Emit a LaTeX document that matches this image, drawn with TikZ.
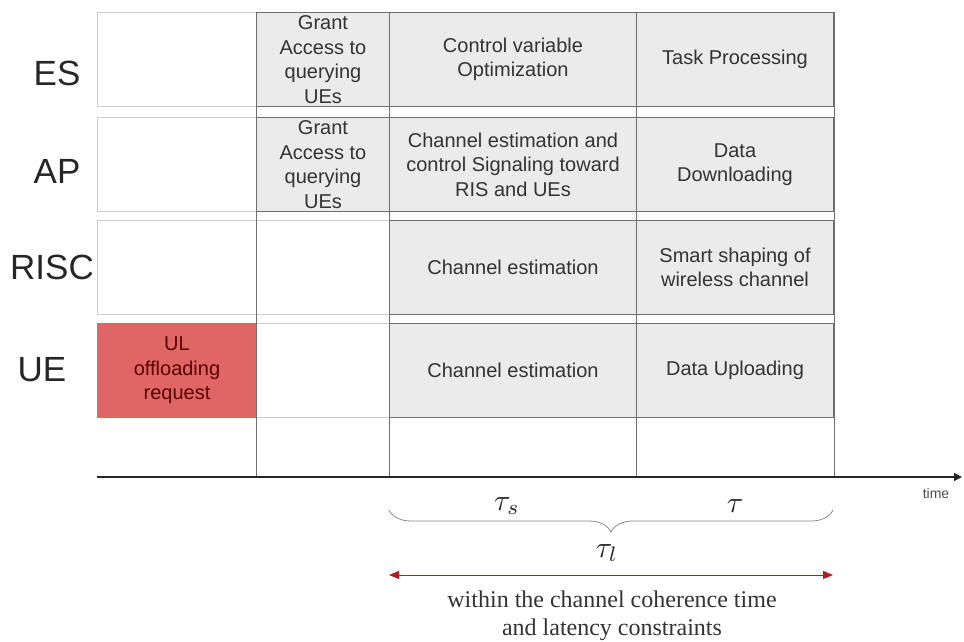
\documentclass[tikz,border=0pt]{standalone}
\usepackage{fontspec}
\setmainfont{Liberation Serif}
\newfontfamily\cellfont{Liberation Sans}
\usetikzlibrary{arrows.meta,decorations.pathreplacing}
\definecolor{cellgray}{HTML}{EBEBEB}
\definecolor{linegray}{HTML}{6E6E6E}
\definecolor{lightline}{HTML}{CDCDCD}
\definecolor{reqred}{HTML}{E06666}
\definecolor{arrowred}{HTML}{B01E23}
\newcommand{\durlabel}[1]{\scalebox{3}{$#1$}}
\tikzset{
	cell/.style={rectangle,anchor=north west,inner sep=0pt,minimum height=94pt,align=center,line width=1pt,
		font=\cellfont\fontsize{20}{24.5}\selectfont,text=black!80},
	blank/.style={cell,draw=lightline,fill=white},
	task/.style={cell,draw=linegray,fill=cellgray},
	request/.style={cell,draw=reqred,fill=reqred,text=black!65!red},
	c0/.style={minimum width=159pt},
	c1/.style={minimum width=133pt},
	c2/.style={minimum width=247pt},
	c3/.style={minimum width=197pt},
	entity/.style={font=\cellfont\fontsize{35}{35}\selectfont,text=black!85,inner sep=0pt},
	grid/.style={draw=linegray,line width=1pt},
	dur/.style={font=\fontsize{10}{10}\selectfont,text=black!85,inner sep=0pt},
}
\begin{document}
\begin{tikzpicture}[x=1pt,y=-1pt]
	\useasboundingbox (0,0) rectangle (964,642);
	\path
	(97,477) coordinate (t0)
	(962,477) coordinate (t1)
	(389,510) coordinate (bl)
	(833,510) coordinate (br)
	(389,575) coordinate (al)
	(833,575) coordinate (ar)
	;
	\node[blank,c0] (es0) at (97,12) {};
	\node[task,c1] (es1) at (256,12) {Grant\\Access to\\querying\\UEs};
	\node[task,c2] (es2) at (389,12) {Control variable\\Optimization};
	\node[task,c3] (es3) at (636,12) {Task Processing};
	\node[blank,c0] (ap0) at (97,117) {};
	\node[task,c1] (ap1) at (256,117) {Grant\\Access to\\querying\\UEs};
	\node[task,c2] (ap2) at (389,117) {Channel estimation and\\control Signaling toward\\RIS and UEs};
	\node[task,c3] (ap3) at (636,117) {Data\\Downloading};
	\node[blank,c0] (risc0) at (97,220) {};
	\node[blank,c1] (risc1) at (256,220) {};
	\node[task,c2] (risc2) at (389,220) {Channel estimation};
	\node[task,c3] (risc3) at (636,220) {Smart shaping of\\wireless channel};
	\node[request,c0] (ue0) at (97,323) {UL\\offloading\\request};
	\node[blank,c1] (ue1) at (256,323) {};
	\node[task,c2] (ue2) at (389,323) {Channel estimation};
	\node[task,c3] (ue3) at (636,323) {Data Uploading};
	\foreach \t in {es1.north west,es2.north west,es3.north west,es3.north east}{
		\draw[grid] (\t) -- (\t |- t0);
	}
	\foreach \t/\p in {ES/{57,73},AP/{57,171},RISC/{52,267},UE/{42,370}}{
		\node[entity] (lab\t) at (\p) {\t};
	}
	\draw[line width=1.2pt,black!85,-{Triangle[length=8pt,width=8pt]}] (t0) -- (t1);
	\node[font=\cellfont\fontsize{14}{14}\selectfont,text=black!70] (time) at (936,493) {time};
	\draw[black!45,line width=0.8pt,decorate,decoration={brace,mirror,amplitude=22pt}] (bl) -- (br);
	\node[dur] (taus) at (507,506) {\durlabel{\tau_s}};
	\node[dur] (tau) at (735,506) {\durlabel{\tau}};
	\node[dur] (taul) at (607,553) {\durlabel{\tau_l}};
	\draw[arrowred,line width=1pt,{Triangle[length=10pt,width=8pt]}-{Triangle[length=10pt,width=8pt]}] (al) -- (ar);
	\node[align=center,font=\fontsize{24}{28}\selectfont,text=black!80] (note) at (612,616) {within the channel coherence time\\and latency constraints};
\end{tikzpicture}
\end{document}
